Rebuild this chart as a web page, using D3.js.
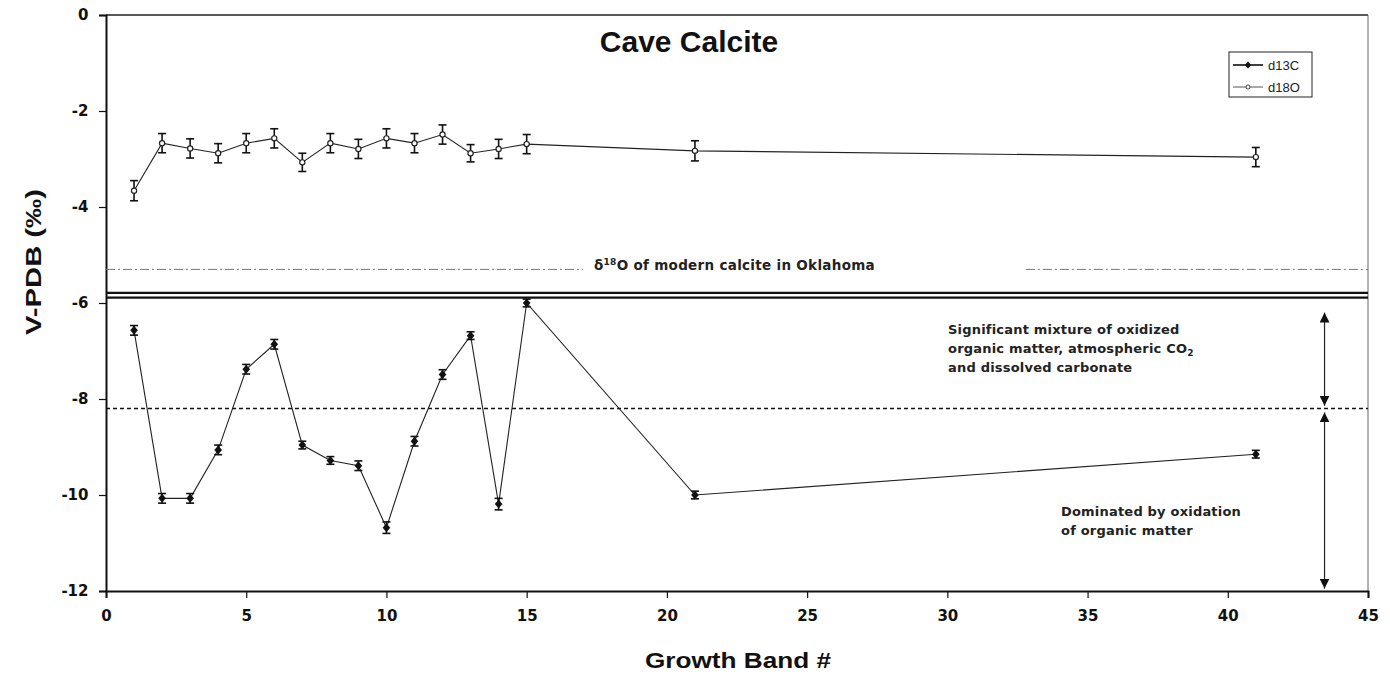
<!DOCTYPE html>
<html>
<head>
<meta charset="utf-8">
<script src="https://cdn.jsdelivr.net/npm/d3@7"></script>
<style>
  html, body { margin: 0; padding: 0; background: #fff; }
  svg { display: block; }
</style>
</head>
<body>
<svg id="chart" width="1390" height="678" font-family="'Liberation Sans', Arial, sans-serif"></svg>
<script>
// Growth band numbers sampled in the cave calcite
const bands = [1, 2, 3, 4, 5, 6, 7, 8, 9, 10, 11, 12, 13, 14, 15, 21, 41];

// Carbon isotope values (per mil V-PDB) and their uncertainties
const d13C    = [-6.57, -10.07, -10.07, -9.06, -7.38, -6.86, -8.96, -9.28, -9.39, -10.68, -8.88, -7.49, -6.68, -10.19, -6.0, -10.0, -9.15];
const d13CErr = [0.1, 0.1, 0.1, 0.1, 0.1, 0.1, 0.08, 0.08, 0.1, 0.12, 0.1, 0.1, 0.08, 0.12, 0.08, 0.08, 0.08];

// Oxygen isotope values (per mil V-PDB) and their uncertainties
const d18O    = [-3.66, -2.67, -2.78, -2.88, -2.67, -2.57, -3.07, -2.67, -2.79, -2.57, -2.67, -2.49, -2.88, -2.79, -2.69, -2.83, -2.96];
const d18OErr = [0.21, 0.2, 0.2, 0.2, 0.2, 0.2, 0.19, 0.2, 0.2, 0.2, 0.2, 0.2, 0.18, 0.2, 0.2, 0.21, 0.2];

// Axis ticks
const xTicks = [0, 5, 10, 15, 20, 25, 30, 35, 40, 45];
const yTicks = [0, -2, -4, -6, -8, -10, -12];

// Reference levels
const modernCalciteO = -5.3;      // δ18O of modern calcite in Oklahoma
const dividerUpper = -5.79;       // double separator between panels
const dividerLower = -5.89;
const mixingBoundary = -8.2;      // boundary between carbon source regimes

const svg = d3.select("#chart");
const W = 1390, H = 678;
const margin = { left: 106, right: 22, top: 15, bottom: 87 };
const heavy = "'DejaVu Sans', 'Liberation Sans', sans-serif";

const x = d3.scaleLinear().domain([0, 45]).range([margin.left, W - margin.right]);
const y = d3.scaleLinear().domain([-12, 0]).range([H - margin.bottom, margin.top]);

const g = svg.append("g");

// Plot frame: top and right borders
g.append("line").attr("x1", x(0)).attr("x2", x(45)).attr("y1", y(0)).attr("y2", y(0))
  .attr("stroke", "#222").attr("stroke-width", 1.5);
g.append("line").attr("x1", x(45)).attr("x2", x(45)).attr("y1", y(0)).attr("y2", y(-12))
  .attr("stroke", "#666").attr("stroke-width", 1);

// Axes
const xAxis = d3.axisBottom(x).tickValues(xTicks).tickSize(7).tickFormat(d3.format("d"));
const yAxis = d3.axisLeft(y).tickValues(yTicks).tickSize(7).tickFormat(d => d);

const gx = g.append("g").attr("transform", `translate(0,${y(-12)})`).call(xAxis);
const gy = g.append("g").attr("transform", `translate(${x(0)},0)`).call(yAxis);

[gx, gy].forEach(a => {
  a.attr("font-family", heavy).attr("font-size", 15);
  a.select(".domain").attr("stroke", "#111").attr("stroke-width", 2);
  a.selectAll(".tick line").attr("stroke", "#111").attr("stroke-width", 1.2);
  a.selectAll(".tick text")
    .attr("font-weight", "bold").attr("fill", "#111");
});
gx.selectAll(".tick text").attr("dy", "1.3em");
gy.selectAll(".tick text").attr("dx", "-0.5em");

// Axis titles
svg.append("text")
  .attr("x", 738).attr("y", 668)
  .attr("text-anchor", "middle").attr("fill", "#111")
  .attr("font-weight", "bold").attr("font-size", 22)
  .attr("textLength", 186).attr("lengthAdjust", "spacingAndGlyphs")
  .text("Growth Band #");

svg.append("text")
  .attr("transform", "translate(41,262) rotate(-90)")
  .attr("text-anchor", "middle").attr("fill", "#111")
  .attr("font-weight", "bold").attr("font-size", 22)
  .attr("textLength", 146).attr("lengthAdjust", "spacingAndGlyphs")
  .text("V-PDB (‰)");

// Title
svg.append("text")
  .attr("x", 689).attr("y", 52)
  .attr("text-anchor", "middle").attr("fill", "#111")
  .attr("font-weight", "bold").attr("font-size", 30)
  .text("Cave Calcite");

// Modern calcite reference line, broken around its label
[[0, 17.0], [32.8, 45]].forEach(([a, b]) => {
  g.append("line")
    .attr("x1", x(a)).attr("x2", x(b))
    .attr("y1", y(modernCalciteO)).attr("y2", y(modernCalciteO))
    .attr("stroke", "#777").attr("stroke-width", 1)
    .attr("stroke-dasharray", "9,3,2,3");
});
const lbl = svg.append("text")
  .attr("x", x(17.4)).attr("y", y(modernCalciteO) + 1)
  .attr("font-family", heavy)
  .attr("font-weight", "bold").attr("font-size", 13.5).attr("fill", "#222")
  .attr("letter-spacing", 0.3);
lbl.append("tspan").text("δ");
lbl.append("tspan").attr("font-size", 9).attr("dy", -5).text("18");
lbl.append("tspan").attr("dy", 5).text("O of modern calcite in Oklahoma");

// Double divider between the two isotope panels
[dividerUpper, dividerLower].forEach(v => {
  g.append("line")
    .attr("x1", x(0)).attr("x2", x(45))
    .attr("y1", y(v)).attr("y2", y(v))
    .attr("stroke", "#111").attr("stroke-width", 2.2);
});

// Dotted boundary between carbon source regimes
g.append("line")
  .attr("x1", x(0)).attr("x2", x(45))
  .attr("y1", y(mixingBoundary)).attr("y2", y(mixingBoundary))
  .attr("stroke", "#111").attr("stroke-width", 1.5)
  .attr("stroke-dasharray", "4,3");

// Range arrows on the right side
const defs = svg.append("defs");
defs.append("marker").attr("id", "head")
  .attr("viewBox", "0 0 10 10").attr("refX", 10).attr("refY", 5)
  .attr("markerWidth", 10).attr("markerHeight", 10)
  .attr("markerUnits", "userSpaceOnUse")
  .attr("orient", "auto-start-reverse")
  .append("path").attr("d", "M0,0 L10,5 L0,10 Z").attr("fill", "#111");

const arrowX = 43.45;
[[-6.2, -8.14], [-8.28, -11.95]].forEach(([a, b]) => {
  g.append("line")
    .attr("x1", x(arrowX)).attr("x2", x(arrowX))
    .attr("y1", y(a)).attr("y2", y(b))
    .attr("stroke", "#222").attr("stroke-width", 1.2)
    .attr("marker-start", "url(#head)").attr("marker-end", "url(#head)");
});

// Annotations for the carbon regimes
const ann1 = svg.append("text")
  .attr("font-family", heavy).attr("font-weight", "bold").attr("font-size", 13)
  .attr("fill", "#222").attr("letter-spacing", 0.2);
ann1.append("tspan").attr("x", 948).attr("y", 334).text("Significant mixture of oxidized");
const l2 = ann1.append("tspan").attr("x", 948).attr("y", 353).text("organic matter, atmospheric CO");
l2.append("tspan").attr("font-size", 9).attr("dy", 3).text("2");
ann1.append("tspan").attr("x", 948).attr("y", 372).text("and dissolved carbonate");

const ann2 = svg.append("text")
  .attr("font-family", heavy).attr("font-weight", "bold").attr("font-size", 13)
  .attr("fill", "#222").attr("letter-spacing", 0.2);
ann2.append("tspan").attr("x", 1061).attr("y", 516).text("Dominated by oxidation");
ann2.append("tspan").attr("x", 1061).attr("y", 535).text("of organic matter");

// Series
const line = d3.line().x(d => x(d.b)).y(d => y(d.v));

function drawSeries(vals, errs, cap, filled) {
  const data = bands.map((b, i) => ({ b, v: vals[i], e: errs[i] }));
  const s = g.append("g");
  s.append("path").datum(data).attr("d", line)
    .attr("fill", "none").attr("stroke", "#222").attr("stroke-width", 1.1);
  const eb = s.selectAll(".eb").data(data).enter().append("g");
  eb.append("line")
    .attr("x1", d => x(d.b)).attr("x2", d => x(d.b))
    .attr("y1", d => y(d.v + d.e)).attr("y2", d => y(d.v - d.e))
    .attr("stroke", "#111").attr("stroke-width", 1.6);
  [1, -1].forEach(sg => {
    eb.append("line")
      .attr("x1", d => x(d.b) - cap).attr("x2", d => x(d.b) + cap)
      .attr("y1", d => y(d.v + sg * d.e)).attr("y2", d => y(d.v + sg * d.e))
      .attr("stroke", "#111").attr("stroke-width", 1.6);
  });
  if (filled) {
    eb.append("path")
      .attr("transform", d => `translate(${x(d.b)},${y(d.v)})`)
      .attr("d", "M0,-4.5 L3.8,0 L0,4.5 L-3.8,0 Z")
      .attr("fill", "#111");
  } else {
    eb.append("circle")
      .attr("cx", d => x(d.b)).attr("cy", d => y(d.v)).attr("r", 2.6)
      .attr("fill", "#fff").attr("stroke", "#222").attr("stroke-width", 1.2);
  }
}
drawSeries(d18O, d18OErr, 4, false);
drawSeries(d13C, d13CErr, 4, true);

// Legend
const lg = svg.append("g");
lg.append("rect").attr("x", 1229).attr("y", 52).attr("width", 83).attr("height", 45)
  .attr("fill", "#fff").attr("stroke", "#222").attr("stroke-width", 1);
[["d13C", 65, true], ["d18O", 87, false]].forEach(([name, yy, filled]) => {
  lg.append("line").attr("x1", 1233).attr("x2", 1263).attr("y1", yy).attr("y2", yy)
    .attr("stroke", filled ? "#111" : "#555").attr("stroke-width", filled ? 1.6 : 1);
  if (filled) {
    lg.append("path").attr("transform", `translate(1248,${yy})`)
      .attr("d", "M0,-3.5 L3,0 L0,3.5 L-3,0 Z").attr("fill", "#111");
  } else {
    lg.append("circle").attr("cx", 1248).attr("cy", yy).attr("r", 2)
      .attr("fill", "#fff").attr("stroke", "#444").attr("stroke-width", 1);
  }
  lg.append("text").attr("x", 1268).attr("y", yy + 4.5)
    .attr("font-size", 13).attr("fill", "#222").text(name);
});
</script>
</body>
</html>
